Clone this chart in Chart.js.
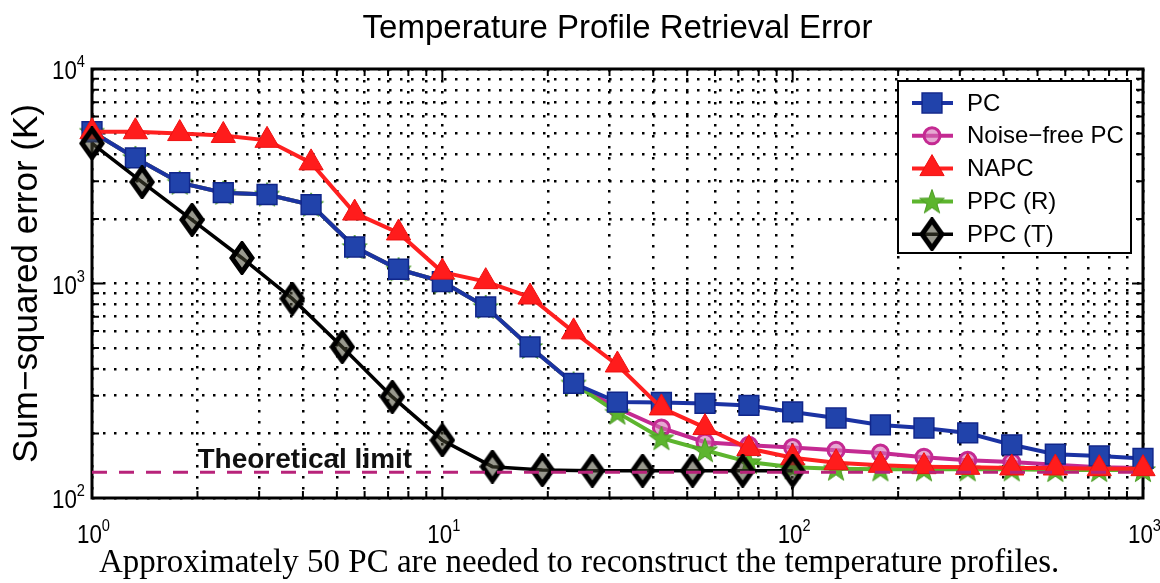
<!DOCTYPE html>
<html>
<head>
<meta charset="utf-8">
<script src="https://cdn.jsdelivr.net/npm/chart.js@4/dist/chart.umd.min.js"></script>
<style>
  html, body { margin: 0; padding: 0; background: #fff; }
  #wrap { position: relative; width: 1160px; height: 583px; }
  #caption {
    position: absolute; left: 99px; top: 545px;
    font: 33px "Liberation Serif", "Times New Roman", serif;
    line-height: 1; white-space: nowrap; color: #000;
  }
</style>
</head>
<body>
<div id="wrap">
  <canvas id="chart" width="1160" height="583"></canvas>
  <div id="caption">Approximately 50 PC are needed to reconstruct the temperature profiles.</div>
</div>
<script>
// number of components (x), 8 per decade for most curves, 7 per decade for PPC (T)
const pcCount = [1, 1.33, 1.78, 2.37, 3.16, 4.22, 5.62, 7.5, 10, 13.3, 17.8, 23.7, 31.6, 42.2, 56.2, 75, 100, 133, 178, 237, 316, 422, 562, 750, 1000];
const ppcTCount = [1, 1.39, 1.93, 2.68, 3.73, 5.18, 7.2, 10, 13.9, 19.3, 26.8, 37.3, 51.8, 72, 100];

// sum-squared error (K)
const pcError = [5100, 3850, 2950, 2650, 2600, 2330, 1480, 1165, 1020, 778, 506, 342, 280, 279, 276, 270, 252, 236, 219, 212, 201, 177, 160, 157, 153];
const noiseFreeError = [5100, 3850, 2950, 2650, 2600, 2330, 1480, 1165, 1020, 778, 506, 342, 262, 212, 182, 176, 172, 167, 162, 155, 150, 147, 143, 139, 138];
const napcError = [5100, 5100, 5000, 4900, 4650, 3650, 2130, 1720, 1130, 1020, 865, 595, 417, 263, 213, 170, 154, 146, 142, 140, 139, 138, 138, 137, 137];
const ppcRError = [5100, 3850, 2950, 2650, 2600, 2330, 1480, 1165, 1020, 778, 506, 342, 250, 190, 167, 147, 139, 137, 136, 136, 136, 136, 135, 135, 135];
const ppcTError = [4500, 2970, 1980, 1315, 850, 506, 296, 186, 140, 135, 134, 134, 134, 134, 134];

const limitCount = [1, 1000];
const limitError = [132, 132];

const titleText = 'Temperature Profile Retrieval Error';
const xTickValues = [1, 10, 100, 1000];
const xTickExp = ['0', '1', '2', '3'];
const yTickValues = [100, 1000, 10000];
const yTickExp = ['2', '3', '4'];

// log grid positions 1..9 per decade
const gridX = [];
for (const d of [1, 10, 100]) for (let m = 1; m < 10; m++) gridX.push(m * d);
gridX.push(1000);
const gridY = [];
for (const d of [100, 1000]) for (let m = 1; m < 10; m++) gridY.push(m * d);
gridY.push(10000);

function pts(xs, ys) {
  return xs.map((x, i) => ({ x: x, y: ys[i] }));
}

// marker images for styles Chart.js does not have
function makeStar(size, fill, stroke) {
  const c = document.createElement('canvas');
  c.width = c.height = size;
  const g = c.getContext('2d');
  const R = size / 2 - 1, r = R * 0.4, cx = size / 2, cy = size / 2 + 1;
  g.beginPath();
  for (let i = 0; i < 10; i++) {
    const a = -Math.PI / 2 + i * Math.PI / 5;
    const rad = i % 2 ? r : R;
    g.lineTo(cx + rad * Math.cos(a), cy + rad * Math.sin(a));
  }
  g.closePath();
  g.fillStyle = fill;
  g.fill();
  g.strokeStyle = stroke;
  g.lineWidth = 1;
  g.stroke();
  return c;
}

function makeDiamond(w, h, stroke) {
  const c = document.createElement('canvas');
  c.width = w; c.height = h;
  const g = c.getContext('2d');
  g.beginPath();
  g.moveTo(w / 2, 3); g.lineTo(w - 3, h / 2); g.lineTo(w / 2, h - 3); g.lineTo(3, h / 2);
  g.closePath();
  g.fillStyle = 'rgba(70,70,50,0.55)';
  g.fill();
  g.strokeStyle = stroke;
  g.lineWidth = 5;
  g.stroke();
  return c;
}

const starImg = makeStar(28, '#5db52e', '#4a9a22');
const diamondImg = makeDiamond(26, 34, '#000');

const FONT = '"Liberation Sans", Arial, Helvetica, sans-serif';
Chart.defaults.color = '#000';
Chart.defaults.font.family = FONT;

// "10" with a raised exponent, slightly narrowed like the original print
function powerLabel(ctx, exp, x, y, align) {
  const sx = 0.86;
  ctx.font = '26px ' + FONT;
  const wb = ctx.measureText('10').width * sx;
  ctx.font = '17px ' + FONT;
  const we = ctx.measureText(exp).width * sx;
  const left = align === 'right' ? x - wb - we : x - 15;
  ctx.save();
  ctx.translate(left, y);
  ctx.scale(sx, 1);
  ctx.textAlign = 'left';
  ctx.textBaseline = 'alphabetic';
  ctx.font = '26px ' + FONT;
  ctx.fillText('10', 0, 0);
  ctx.font = '17px ' + FONT;
  ctx.fillText(exp, wb / sx, -12);
  ctx.restore();
}

const decorations = {
  id: 'decorations',
  beforeDatasetsDraw(chart) {
    const { ctx, chartArea: a, scales: { x, y } } = chart;
    ctx.save();
    ctx.strokeStyle = '#000';
    ctx.lineWidth = 2;
    // inward ticks on all four sides
    gridX.forEach(v => {
      const px = x.getPixelForValue(v);
      const len = xTickValues.includes(v) ? 11 : 7;
      ctx.beginPath();
      ctx.moveTo(px, a.bottom); ctx.lineTo(px, a.bottom - len);
      ctx.moveTo(px, a.top); ctx.lineTo(px, a.top + len);
      ctx.stroke();
    });
    gridY.forEach(v => {
      const py = y.getPixelForValue(v);
      const len = yTickValues.includes(v) ? 11 : 7;
      ctx.beginPath();
      ctx.moveTo(a.left, py); ctx.lineTo(a.left + len, py);
      ctx.moveTo(a.right, py); ctx.lineTo(a.right - len, py);
      ctx.stroke();
    });
    ctx.lineWidth = 3;
    ctx.strokeRect(a.left, a.top, a.right - a.left, a.bottom - a.top);

    // tick labels
    ctx.fillStyle = '#000';
    xTickValues.forEach((v, i) => powerLabel(ctx, xTickExp[i], x.getPixelForValue(v), a.bottom + 45, 'center'));
    yTickValues.forEach((v, i) => powerLabel(ctx, yTickExp[i], a.left - 7, y.getPixelForValue(v) + 10, 'right'));

    // title, centred over the plot area
    ctx.font = '33px ' + FONT;
    ctx.textAlign = 'center';
    ctx.textBaseline = 'alphabetic';
    ctx.fillText(titleText, (a.left + a.right) / 2, 38);
    ctx.restore();
  },
  afterDatasetsDraw(chart) {
    const { ctx, scales: { x, y } } = chart;
    ctx.save();
    // label of the limit line
    ctx.font = 'bold 28px ' + FONT;
    ctx.fillStyle = '#111';
    ctx.textAlign = 'left';
    ctx.textBaseline = 'alphabetic';
    ctx.fillText('Theoretical limit', x.getPixelForValue(2), y.getPixelForValue(limitError[0]) - 4);

    // legend box
    const bx = 898, by = 81, bw = 233, bh = 172;
    ctx.fillStyle = '#fff';
    ctx.fillRect(bx, by, bw, bh);
    ctx.strokeStyle = '#000';
    ctx.lineWidth = 2;
    ctx.strokeRect(bx, by, bw, bh);
    const sets = chart.data.datasets.filter(d => d.inLegend);
    ctx.font = '24px ' + FONT;
    ctx.textBaseline = 'middle';
    sets.forEach((d, i) => {
      const ry = by + 22 + i * 32.8;
      ctx.strokeStyle = d.borderColor;
      ctx.lineWidth = d.borderWidth;
      ctx.beginPath();
      ctx.moveTo(bx + 14, ry); ctx.lineTo(bx + 55, ry);
      ctx.stroke();
      drawMarker(ctx, d, bx + 34, ry);
      ctx.fillStyle = '#000';
      ctx.fillText(d.label, bx + 69, ry + 1);
    });
    ctx.restore();
  }
};

function drawMarker(ctx, d, cx, cy) {
  const s = d.pointStyle;
  if (s instanceof HTMLCanvasElement) {
    ctx.drawImage(s, cx - s.width / 2, cy - s.height / 2);
    return;
  }
  const r = d.pointRadius;
  ctx.fillStyle = d.pointBackgroundColor;
  ctx.strokeStyle = d.pointBorderColor;
  ctx.lineWidth = d.pointBorderWidth;
  ctx.beginPath();
  if (s === 'rect') {
    const h = r * Math.SQRT1_2;
    ctx.rect(cx - h, cy - h, 2 * h, 2 * h);
  } else if (s === 'triangle') {
    ctx.moveTo(cx, cy - r);
    ctx.lineTo(cx + r * 0.866, cy + r / 2);
    ctx.lineTo(cx - r * 0.866, cy + r / 2);
    ctx.closePath();
  } else {
    ctx.arc(cx, cy, r, 0, Math.PI * 2);
  }
  ctx.fill();
  ctx.stroke();
}

new Chart(document.getElementById('chart'), {
  type: 'line',
  data: {
    datasets: [
      {
        label: 'PC', inLegend: true, data: pts(pcCount, pcError), order: 2,
        borderColor: '#1b33a3', borderWidth: 4,
        pointStyle: 'rect', pointRadius: 14, pointBorderWidth: 1.5,
        pointBackgroundColor: '#2143ab', pointBorderColor: '#10268a'
      },
      {
        label: 'Noise−free PC', inLegend: true, data: pts(pcCount, noiseFreeError), order: 4,
        borderColor: '#c42a92', borderWidth: 4,
        pointStyle: 'circle', pointRadius: 8, pointBorderWidth: 3,
        pointBackgroundColor: 'rgba(214,110,180,0.6)', pointBorderColor: '#c42a92'
      },
      {
        label: 'NAPC', inLegend: true, data: pts(pcCount, napcError), order: 1,
        borderColor: '#ff2020', borderWidth: 4,
        pointStyle: 'triangle', pointRadius: 14, pointBorderWidth: 1,
        pointBackgroundColor: '#ff1c1c', pointBorderColor: '#ee1010'
      },
      {
        label: 'PPC (R)', inLegend: true, data: pts(pcCount, ppcRError), order: 3,
        borderColor: '#5db52e', borderWidth: 4,
        pointStyle: starImg, pointRadius: 12
      },
      {
        label: 'PPC (T)', inLegend: true, data: pts(ppcTCount, ppcTError), order: 0,
        borderColor: '#000', borderWidth: 3.5,
        pointStyle: diamondImg, pointRadius: 12
      },
      {
        label: 'Theoretical limit', inLegend: false, data: pts(limitCount, limitError), order: -1,
        borderColor: '#b8237a', borderWidth: 3, borderDash: [15, 12],
        pointRadius: 0
      }
    ]
  },
  options: {
    responsive: false,
    animation: false,
    layout: { padding: { left: 0, right: 17, top: 69, bottom: 0 } },
    datasets: { line: { clip: false, tension: 0 } },
    plugins: {
      legend: { display: false },
      tooltip: { enabled: false },
      title: { display: false }
    },
    scales: {
      x: {
        type: 'logarithmic', min: 1, max: 1000,
        afterBuildTicks: s => { s.ticks = gridX.map(v => ({ value: v })); },
        afterFit: s => { s.height = 85; },
        ticks: { display: false, autoSkip: false },
        grid: { color: '#000', lineWidth: 2.5, drawTicks: false, borderDash: [2.5, 8.5] },
        border: { display: false, dash: [2.5, 8.5] }
      },
      y: {
        type: 'logarithmic', min: 100, max: 10000,
        afterBuildTicks: s => { s.ticks = gridY.map(v => ({ value: v })); },
        afterFit: s => { s.width = 92; },
        ticks: { display: false, autoSkip: false },
        grid: { color: '#000', lineWidth: 2.5, drawTicks: false, borderDash: [2.5, 8.5] },
        border: { display: false, dash: [2.5, 8.5] },
        title: {
          display: true, text: 'Sum−squared error (K)',
          font: { size: 35 }, color: '#000',
          padding: { top: 6, bottom: 0 }
        }
      }
    }
  },
  plugins: [decorations]
});
</script>
</body>
</html>
